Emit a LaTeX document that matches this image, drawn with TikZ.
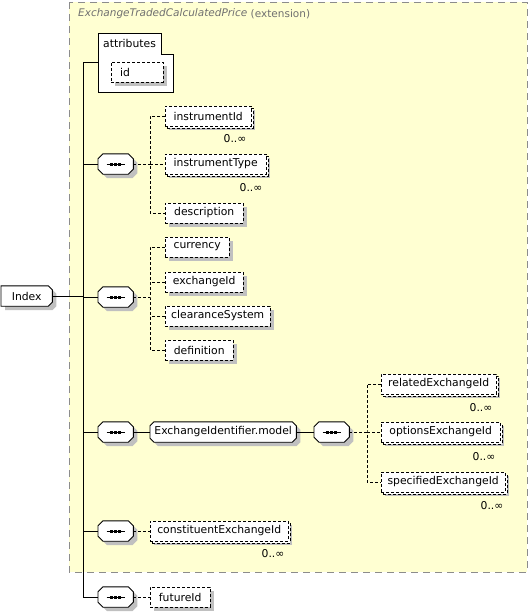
\documentclass[tikz,border=0pt]{standalone}
\usepackage{fontspec}
\setmainfont{DejaVu Sans}
\usetikzlibrary{shadows}
\definecolor{extfill}{HTML}{FFFFD2}
\definecolor{shadowgray}{HTML}{C0C0C0}
\definecolor{extborder}{HTML}{8C8C8C}
\definecolor{titlegray}{HTML}{707070}
\pgfdeclarelayer{bottom}
\pgfdeclarelayer{bg}
\pgfsetlayers{bottom,bg,main}
% octagon outline around a node
\newcommand\octpath[2]{([xshift=#2]#1.north west) -- ([xshift=-#2]#1.north east) -- ([yshift=-#2]#1.north east) -- ([yshift=#2]#1.south east) -- ([xshift=-#2]#1.south east) -- ([xshift=#2]#1.south west) -- ([yshift=#2]#1.south west) -- ([yshift=-#2]#1.north west) -- cycle}
\newcommand\octo[2][5pt]{%
  \begin{pgfonlayer}{bg}
  \fill[shadowgray, transform canvas={xshift=4pt,yshift=-4pt}] \octpath{#2}{#1};
  \draw[fill=white, line width=0.9pt, line join=round] \octpath{#2}{#1};
  \end{pgfonlayer}}
\newcommand\seqdots[1]{%
  \draw (#1.center) ++(-9,0) -- ++(18,0);
  \draw[line width=3pt, dash pattern=on 3pt off 1pt] (#1.center) ++(-5.5,0) -- ++(11,0);}
\begin{document}
\begin{tikzpicture}[x=1pt,y=1pt, font=\fontsize{10.8}{12}\selectfont, line width=0.9pt,
  shadowed/.style={drop shadow={shadow xshift=4pt,shadow yshift=-4pt,fill=shadowgray,opacity=1}},
  dsh/.style={dash pattern=on 3pt off 2pt},
  elbox/.style={draw, dsh, fill=white, minimum height=20pt, inner sep=0pt, anchor=west, shadowed},
  multibox/.style={elbox, general shadow={shadow xshift=2pt,shadow yshift=-2pt,draw=black,dsh,fill=white}},
  seqnode/.style={minimum width=35pt, minimum height=20pt, inner sep=0pt, anchor=west},
  grpnode/.style={minimum height=20pt, inner sep=0pt, anchor=west},
  occ/.style={inner sep=0pt},
  fan/.style={dsh}
]
\useasboundingbox (0,0) rectangle (528,-613);
% extension frame
\begin{pgfonlayer}{bottom}
\draw[extborder, fill=extfill, line width=0.9pt, dash pattern=on 7pt off 5pt] (69,-2) rectangle (527,-572);
\end{pgfonlayer}
\node[anchor=west, inner sep=0pt, text=titlegray, font=\fontsize{10.5}{12}\selectfont\itshape] (title) at (78,-14) {ExchangeTradedCalculatedPrice};
\node[anchor=west, inner sep=0pt, text=titlegray, font=\fontsize{10.5}{12}\selectfont] (extlbl) at ([xshift=3pt]title.east) {(extension)};

% attributes
\draw[fill=white] (98,-33) -- (161,-33) -- (161,-54) -- (173,-54) -- (173,-92) -- (98,-92) -- cycle;
\node[anchor=west, inner sep=0pt] (attrs) at (103,-43) {attributes};
\node[elbox, minimum width=52pt, text width=34pt, align=left] (id) at (111,-72) {id};
\coordinate (attrw) at (98,-62);

% Index
\node[minimum width=51pt, minimum height=20pt, inner sep=0pt, anchor=west] (idx) at (1,-296) {Index};
\begin{pgfonlayer}{bg}
\fill[shadowgray, transform canvas={xshift=4pt,yshift=-4pt}] (idx.north west) -- ([xshift=-4pt]idx.north east) -- ([yshift=-4pt]idx.north east) -- ([yshift=4pt]idx.south east) -- ([xshift=-4pt]idx.south east) -- (idx.south west) -- cycle;
\draw[fill=white, line width=0.9pt] (idx.north west) -- ([xshift=-4pt]idx.north east) -- ([yshift=-4pt]idx.north east) -- ([yshift=4pt]idx.south east) -- ([xshift=-4pt]idx.south east) -- (idx.south west) -- cycle;
\end{pgfonlayer}

% main line junctions
\coordinate (j0) at (83,-62);
\coordinate (ji) at (83,-296);
\coordinate (j1) at (83,-164);
\coordinate (j2) at (83,-297);
\coordinate (j3) at (83,-432);
\coordinate (j5) at (83,-531);
\coordinate (j6) at (83,-597);

% sequences
\node[seqnode] (s1) at (98,-164) {};
\node[seqnode] (s2) at (98,-297) {};
\node[seqnode] (s3) at (98,-432) {};
\node[grpnode, minimum width=146pt] (model) at (150,-432) {ExchangeIdentifier.model};
\node[seqnode] (s4) at (314,-432) {};
\node[seqnode] (s5) at (98,-531) {};
\node[seqnode] (s6) at (98,-597) {};
\foreach \s in {s1,s2,s3,s4,s5,s6} {\octo{\s}\seqdots{\s}}
\octo[4pt]{model}

% group 1
\node[multibox, minimum width=86pt] (instrumentId) at (165,-116) {instrumentId};
\node[multibox, minimum width=101pt] (instrumentType) at (165,-164) {instrumentType};
\node[elbox, minimum width=78pt] (description) at (165,-213) {description};
\node[occ] (o1) at (235,-139) {0..∞};
\node[occ] (o2) at (251,-188) {0..∞};

% group 2
\node[elbox, minimum width=64pt] (currency) at (165,-247) {currency};
\node[elbox, minimum width=78pt] (exchangeId) at (165,-282) {exchangeId};
\node[elbox, minimum width=105pt] (clearance) at (165,-316) {clearanceSystem};
\node[elbox, minimum width=68pt] (definition) at (165,-350) {definition};

% group 3
\node[multibox, minimum width=115pt] (related) at (381,-384) {relatedExchangeId};
\node[multibox, minimum width=119pt] (options) at (381,-432) {optionsExchangeId};
\node[multibox, minimum width=124pt] (specified) at (381,-482) {specifiedExchangeId};
\node[occ] (o3) at (481,-408) {0..∞};
\node[occ] (o4) at (484,-457) {0..∞};
\node[occ] (o5) at (492,-506) {0..∞};

% group 5,6
\node[multibox, minimum width=138pt] (constituent) at (150,-531) {constituentExchangeId};
\node[occ] (o6) at (273,-554) {0..∞};
\node[elbox, minimum width=60pt] (futureId) at (150,-597) {futureId};

% solid connectors
\draw (j0) -- (j6);
\draw (j0) -- (attrw);
\draw (idx.east) -- (ji);
\draw (j1) -- (s1.west);
\draw (j2) -- (s2.west);
\draw (j3) -- (s3.west);
\draw (j5) -- (s5.west);
\draw (j6) -- (s6.west);
\draw (s3.east) -- (model.west);
\draw (model.east) -- (s4.west);

% dashed fans
\coordinate (f1) at (150,-164);
\draw[fan] (s1.east) -- (f1);
\draw[fan] (instrumentId.west) -| (f1) |- (description.west);
\draw[fan] (f1) -- (instrumentType.west);
\coordinate (f2) at (150,-297);
\draw[fan] (s2.east) -- (f2);
\draw[fan] (currency.west) -| (f2) |- (definition.west);
\draw[fan] (exchangeId.west) -- (exchangeId.west -| f2);
\draw[fan] (clearance.west) -- (clearance.west -| f2);
\coordinate (f4) at (367,-432);
\draw[fan] (s4.east) -- (f4);
\draw[fan] (related.west) -| (f4) |- (specified.west);
\draw[fan] (f4) -- (options.west);
\draw[fan] (s5.east) -- (constituent.west);
\draw[fan] (s6.east) -- (futureId.west);
\end{tikzpicture}
\end{document}
